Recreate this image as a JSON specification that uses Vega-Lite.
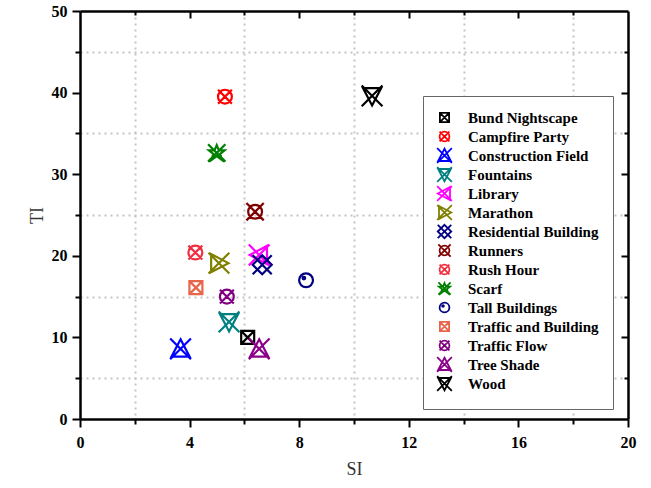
{
  "$schema": "https://vega.github.io/schema/vega-lite/v6.json",
  "width": 548,
  "height": 408,
  "autosize": "none",
  "padding": {"left": 80, "top": 11, "right": 23, "bottom": 69},
  "background": "white",
  "data": {"values": [
    {"name": "Bund Nightscape", "SI": 6.12, "TI": 10.0},
    {"name": "Campfire Party", "SI": 5.29, "TI": 39.5},
    {"name": "Construction Field", "SI": 3.67, "TI": 8.6},
    {"name": "Fountains", "SI": 5.44, "TI": 11.9},
    {"name": "Library", "SI": 6.54, "TI": 20.1},
    {"name": "Marathon", "SI": 5.07, "TI": 19.1},
    {"name": "Residential Building", "SI": 6.65, "TI": 18.9},
    {"name": "Runners", "SI": 6.39, "TI": 25.4},
    {"name": "Rush Hour", "SI": 4.21, "TI": 20.4},
    {"name": "Scarf", "SI": 4.99, "TI": 32.6},
    {"name": "Tall Buildings", "SI": 8.25, "TI": 17.0},
    {"name": "Traffic and Building", "SI": 4.23, "TI": 16.1},
    {"name": "Traffic Flow", "SI": 5.36, "TI": 15.0},
    {"name": "Tree Shade", "SI": 6.54, "TI": 8.6},
    {"name": "Wood", "SI": 10.66, "TI": 39.6}
  ]},
  "config": {
    "view": {"stroke": null},
    "axis": {
      "domainColor": "black", "domainWidth": 2.5, "tickColor": "black", "tickWidth": 2,
      "labelFont": "Liberation Serif", "labelFontWeight": "bold", "labelFontSize": 16, "labelColor": "black", "labelFlush": false,
      "titleFont": "Liberation Serif", "titleFontWeight": "normal", "titleFontSize": 18, "titleColor": "#333",
      "gridColor": "#c4c4c4", "gridDash": [2, 4], "gridWidth": 2
    },
    "legend": {
      "orient": "none", "legendX": 343, "legendY": 85,
      "strokeColor": "#666", "fillColor": "white", "padding": 14,
      "labelFont": "Liberation Serif", "labelFontWeight": "bold", "labelFontSize": 15, "labelColor": "black",
      "labelOffset": 16, "symbolSize": 150, "symbolStrokeWidth": 1.8, "rowPadding": -7.6, "labelLimit": 300
    }
  },
  "resolve": {"axis": {"x": "independent", "y": "independent"}},
  "layer": [
    {
      "mark": {"type": "point", "opacity": 0},
      "encoding": {
        "x": {"field": "SI", "type": "quantitative", "scale": {"domain": [0, 20], "nice": false, "zero": false},
          "axis": {"orient": "bottom", "values": [2, 6, 10, 14, 18], "tickSize": 5, "labels": false, "domain": false, "grid": true, "title": null}},
        "y": {"field": "TI", "type": "quantitative", "scale": {"domain": [0, 50], "nice": false, "zero": false},
          "axis": {"orient": "left", "values": [5, 15, 25, 35, 45], "tickSize": 5, "labels": false, "domain": false, "grid": true, "title": null}}
      }
    },
    {
      "mark": {"type": "point", "opacity": 0},
      "encoding": {
        "x": {"field": "SI", "type": "quantitative",
          "axis": {"orient": "top", "values": [2, 6, 10, 14, 18], "tickSize": -4, "labels": false, "domain": false, "grid": false, "title": null}},
        "y": {"field": "TI", "type": "quantitative",
          "axis": {"orient": "right", "values": [5, 15, 25, 35, 45], "tickSize": -4, "labels": false, "domain": false, "grid": false, "title": null}}
      }
    },
    {
      "mark": {"type": "point", "opacity": 0},
      "encoding": {
        "x": {"field": "SI", "type": "quantitative",
          "axis": {"orient": "top", "values": [4, 8, 12, 16], "tickSize": -7, "labels": false, "domain": true, "grid": false, "title": null}},
        "y": {"field": "TI", "type": "quantitative",
          "axis": {"orient": "right", "values": [10, 20, 30, 40], "tickSize": -7, "labels": false, "domain": true, "grid": false, "title": null}}
      }
    },
    {
      "mark": {"type": "point", "filled": false, "strokeWidth": 2.2, "size": 300, "opacity": 1},
      "encoding": {
        "x": {"field": "SI", "type": "quantitative",
          "axis": {"orient": "bottom", "values": [0, 4, 8, 12, 16, 20], "tickSize": 8, "labelPadding": 7, "grid": false, "title": "SI", "titlePadding": 10}},
        "y": {"field": "TI", "type": "quantitative",
          "axis": {"orient": "left", "values": [0, 10, 20, 30, 40, 50], "tickSize": 8, "labelPadding": 5, "grid": false, "title": "TI", "titlePadding": 5}},
        "color": {"field": "name", "type": "nominal", "legend": {"title": null},
          "scale": {
            "domain": ["Bund Nightscape", "Campfire Party", "Construction Field", "Fountains", "Library", "Marathon", "Residential Building", "Runners", "Rush Hour", "Scarf", "Tall Buildings", "Traffic and Building", "Traffic Flow", "Tree Shade", "Wood"],
            "range": ["#000000", "#ff0000", "#0000ff", "#008080", "#ff00ff", "#808000", "#000080", "#800000", "#f03040", "#008000", "#000080", "#e8644a", "#800080", "#8b008b", "#000000"]
          }},
        "shape": {"field": "name", "type": "nominal", "legend": {"title": null},
          "scale": {
            "domain": ["Bund Nightscape", "Campfire Party", "Construction Field", "Fountains", "Library", "Marathon", "Residential Building", "Runners", "Rush Hour", "Scarf", "Tall Buildings", "Traffic and Building", "Traffic Flow", "Tree Shade", "Wood"],
            "range": [
              "M-1.2,-1.2M1.2,1.2M-0.75,-0.75H0.75V0.75H-0.75Z M-0.75,-0.75L0.75,0.75 M0.75,-0.75L-0.75,0.75",
              "M-1.2,-1.2M1.2,1.2M0.8,0A0.8,0.8,0,1,1,-0.8,0A0.8,0.8,0,1,1,0.8,0Z M-0.8,-0.8L0.8,0.8 M0.8,-0.8L-0.8,0.8",
              "M-1.2,-1.2M1.2,1.2M0,-1.1L1.05,0.9H-1.05Z M-1.2,-1.2L1.2,1.2 M1.2,-1.2L-1.2,1.2",
              "M-1.2,-1.2M1.2,1.2M-1.05,-0.9H1.05L0,1.1Z M-1.2,-1.2L1.2,1.2 M1.2,-1.2L-1.2,1.2",
              "M-1.2,-1.2M1.2,1.2M-1.1,0L0.9,-1.05V1.05Z M-1.2,-1.2L1.2,1.2 M1.2,-1.2L-1.2,1.2",
              "M-1.2,-1.2M1.2,1.2M1.1,0L-0.9,-1.05V1.05Z M-1.2,-1.2L1.2,1.2 M1.2,-1.2L-1.2,1.2",
              "M-1.2,-1.2M1.2,1.2M0,-1.1L1.1,0L0,1.1L-1.1,0Z M-1.1,-1.1L1.1,1.1 M1.1,-1.1L-1.1,1.1",
              "M-1.2,-1.2M1.2,1.2M0.8,0A0.8,0.8,0,1,1,-0.8,0A0.8,0.8,0,1,1,0.8,0Z M-1,-1L1,1 M1,-1L-1,1",
              "M-1.2,-1.2M1.2,1.2M0.8,0A0.8,0.8,0,1,1,-0.8,0A0.8,0.8,0,1,1,0.8,0Z M-0.8,-0.8L0.8,0.8 M0.8,-0.8L-0.8,0.8",
              "M-1.2,-1.2M1.2,1.2M0,-0.9L0.25,-0.3L0.9,-0.3L0.4,0.1L0.6,0.8L0,0.35L-0.6,0.8L-0.4,0.1L-0.9,-0.3L-0.25,-0.3Z M-1,-1L1,1 M1,-1L-1,1",
              "M-1.2,-1.2M1.2,1.2M0.8,0A0.8,0.8,0,1,1,-0.8,0A0.8,0.8,0,1,1,0.8,0Z M-0.1,-0.25A0.15,0.15,0,1,1,-0.4,-0.25A0.15,0.15,0,1,1,-0.1,-0.25Z",
              "M-1.2,-1.2M1.2,1.2M-0.75,-0.75H0.75V0.75H-0.75Z M-0.75,-0.75L0.75,0.75 M0.75,-0.75L-0.75,0.75",
              "M-1.2,-1.2M1.2,1.2M0.8,0A0.8,0.8,0,1,1,-0.8,0A0.8,0.8,0,1,1,0.8,0Z M-0.8,-0.8L0.8,0.8 M0.8,-0.8L-0.8,0.8",
              "M-1.2,-1.2M1.2,1.2M0,-1.1L1.05,0.9H-1.05Z M-1.2,-1.2L1.2,1.2 M1.2,-1.2L-1.2,1.2",
              "M-1.2,-1.2M1.2,1.2M-1.05,-0.9H1.05L0,1.1Z M-1.2,-1.2L1.2,1.2 M1.2,-1.2L-1.2,1.2"
            ]
          }}
      }
    }
  ]
}
